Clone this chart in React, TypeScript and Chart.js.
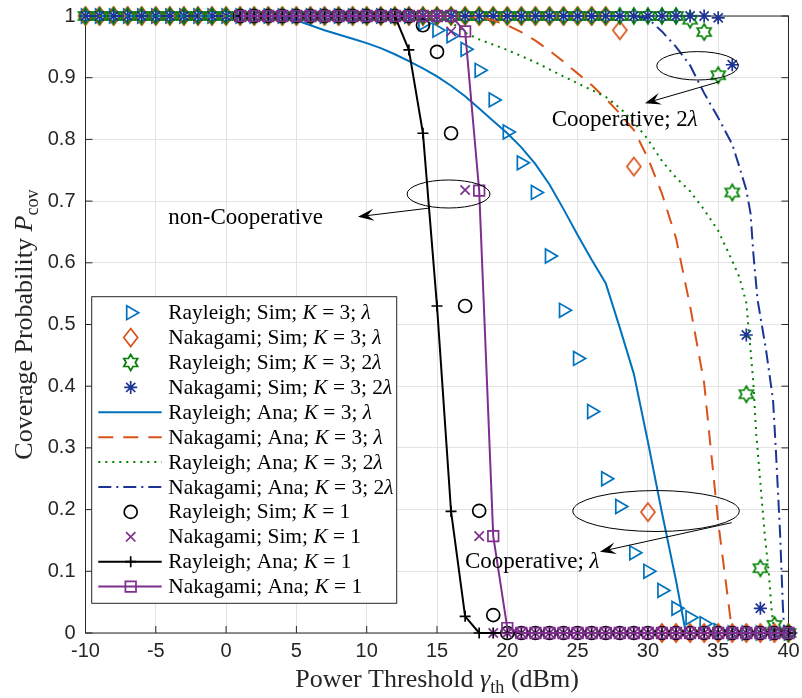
import React, { useEffect, useRef } from 'react';
import { Chart, registerables } from 'chart.js';

Chart.register(...registerables);

// ---------------- data ----------------
const xK3 = [-10, -9, -8, -7, -6, -5, -4, -3, -2, -1, 0, 1, 2, 3, 4, 5, 6, 7, 8, 9, 10, 11, 12, 13, 14, 15, 16, 17, 18, 19, 20, 21, 22, 23, 24, 25, 26, 27, 28, 29, 30, 31, 32, 33, 34, 35, 36, 37, 38, 39, 40];
const xK1 = [1, 2, 3, 4, 5, 6, 7, 8, 9, 10, 11, 12, 13, 14, 15, 16, 17, 18, 19, 20, 21, 22, 23, 24, 25, 26, 27, 28, 29, 30, 31, 32, 33, 34, 35, 36, 37, 38, 39, 40];

const rayleighSimK3Lam = [1, 1, 1, 1, 1, 1, 1, 1, 1, 1, 1, 1, 1, 1, 1, 1, 1, 1, 1, 1, 1, 1, 1, 1, 0.988, 0.977, 0.968, 0.946, 0.912, 0.864, 0.812, 0.762, 0.714, 0.611, 0.523, 0.445, 0.359, 0.25, 0.205, 0.13, 0.1, 0.069, 0.04, 0.025, 0.015, 0.004, 0, 0, 0, 0, 0];
const nakagamiSimK3Lam = [1, 1, 1, 1, 1, 1, 1, 1, 1, 1, 1, 1, 1, 1, 1, 1, 1, 1, 1, 1, 1, 1, 1, 1, 1, 1, 1, 1, 1, 1, 1, 1, 1, 1, 1, 1, 1, 1, 0.977, 0.756, 0.196, 0, 0, 0, 0, 0, 0, 0, 0, 0, 0];
const rayleighSimK3Lam2 = [1, 1, 1, 1, 1, 1, 1, 1, 1, 1, 1, 1, 1, 1, 1, 1, 1, 1, 1, 1, 1, 1, 1, 1, 1, 1, 1, 1, 1, 1, 1, 1, 1, 1, 1, 1, 1, 1, 1, 1, 1, 1, 1, 0.994, 0.974, 0.904, 0.714, 0.387, 0.105, 0.013, 0];
const nakagamiSimK3Lam2 = [1, 1, 1, 1, 1, 1, 1, 1, 1, 1, 1, 1, 1, 1, 1, 1, 1, 1, 1, 1, 1, 1, 1, 1, 1, 1, 1, 1, 1, 1, 1, 1, 1, 1, 1, 1, 1, 1, 1, 1, 1, 1, 1, 1, 1, 0.997, 0.921, 0.483, 0.04, 0, 0];

const xRayAnaK3Lam = [-10, -5, 0, 3, 4, 5, 6, 7, 8, 9, 10, 11, 12, 13, 14, 15, 16, 17, 18, 19, 20, 21, 22, 23, 24, 25, 26, 27, 28, 29, 30, 31, 32, 32.7, 35, 40];
const rayleighAnaK3Lam = [1, 1, 1, 1, 0.998, 0.993, 0.985, 0.977, 0.97, 0.963, 0.956, 0.948, 0.938, 0.927, 0.915, 0.902, 0.887, 0.87, 0.85, 0.83, 0.81, 0.787, 0.76, 0.727, 0.687, 0.645, 0.605, 0.567, 0.495, 0.42, 0.31, 0.195, 0.085, 0, 0, 0];

const xNakAnaK3Lam = [-10, 0, 10, 17, 18, 19, 20, 21, 22, 23, 24, 25, 26, 27, 28, 29, 30, 31, 32, 33, 34, 35, 35.5, 36, 40];
const nakagamiAnaK3Lam = [1, 1, 1, 1, 0.998, 0.993, 0.985, 0.974, 0.96, 0.944, 0.926, 0.907, 0.888, 0.866, 0.842, 0.815, 0.77, 0.712, 0.64, 0.53, 0.405, 0.18, 0.09, 0, 0];

const xRayAnaK3Lam2 = [-10, 0, 10, 15, 16, 17, 18, 20, 22, 24, 26, 27, 28, 29, 30, 31, 32, 33, 34, 35, 36, 36.5, 37, 37.3, 37.5, 37.7, 38, 38.3, 38.6, 38.8, 39, 40];
const rayleighAnaK3Lam2 = [1, 1, 1, 1, 0.99, 0.973, 0.962, 0.945, 0.925, 0.902, 0.88, 0.869, 0.851, 0.828, 0.8, 0.765, 0.738, 0.716, 0.686, 0.652, 0.603, 0.577, 0.535, 0.459, 0.405, 0.324, 0.243, 0.162, 0.097, 0.037, 0, 0];

const xNakAnaK3Lam2 = [-10, 0, 10, 20, 29, 30, 31, 32, 33, 34, 35, 36, 36.5, 37, 37.3, 37.5, 37.8, 38, 38.4, 38.9, 39.1, 39.4, 39.6, 39.7, 40];
const nakagamiAnaK3Lam2 = [1, 1, 1, 1, 1, 0.996, 0.975, 0.95, 0.92, 0.875, 0.835, 0.792, 0.756, 0.718, 0.68, 0.615, 0.54, 0.513, 0.459, 0.378, 0.297, 0.162, 0.043, 0, 0];

const rayleighSimK1 = [1, 1, 1, 1, 1, 1, 1, 1, 1, 1, 1, 1, 1, 0.985, 0.942, 0.81, 0.53, 0.198, 0.029, 0, 0, 0, 0, 0, 0, 0, 0, 0, 0, 0, 0, 0, 0, 0, 0, 0, 0, 0, 0, 0];
const nakagamiSimK1 = [1, 1, 1, 1, 1, 1, 1, 1, 1, 1, 1, 1, 1, 1, 1, 0.975, 0.718, 0.157, 0, 0, 0, 0, 0, 0, 0, 0, 0, 0, 0, 0, 0, 0, 0, 0, 0, 0, 0, 0, 0, 0];
const rayleighAnaK1 = [1, 1, 1, 1, 1, 1, 1, 1, 1, 1, 1, 1, 0.945, 0.81, 0.53, 0.197, 0.027, 0, 0, 0, 0, 0, 0, 0, 0, 0, 0, 0, 0, 0, 0, 0, 0, 0, 0, 0, 0, 0, 0, 0];
const nakagamiAnaK1 = [1, 1, 1, 1, 1, 1, 1, 1, 1, 1, 1, 1, 1, 1, 1, 1, 0.975, 0.717, 0.157, 0.008, 0, 0, 0, 0, 0, 0, 0, 0, 0, 0, 0, 0, 0, 0, 0, 0, 0, 0, 0, 0];

const xTickMin = -10;
const xTickMax = 40;
const xTickStep = 5;
const yTickMin = 0;
const yTickMax = 1;
const yTickStep = 0.1;

const xTitle = 'Power Threshold';
const yTitle = 'Coverage Probability';

// ---------------- styles ----------------
const BLUE = '#0072BD';
const ORANGE = '#D95319';
const GREEN = '#008000';
const NAVY = '#1C3494';
const PURPLE = '#7E2F8E';
const BLACK = '#000000';
const AXIS = '#262626';
const SERIF = '"Liberation Serif", "Times New Roman", serif';
const SANS = '"Liberation Sans", Arial, Helvetica, sans-serif';

type Seg = { t: string; i?: boolean; sub?: boolean };
const R = (t: string): Seg => ({ t });
const I = (t: string): Seg => ({ t, i: true });
const S = (t: string): Seg => ({ t, sub: true });

function drawRich(ctx: CanvasRenderingContext2D, segs: Seg[], x: number, y: number, size: number, align: 'left' | 'center') {
  const fontOf = (s: Seg) => `${s.i ? 'italic ' : ''}${s.sub ? size * 0.7 : size}px ${SERIF}`;
  const widths = segs.map((s) => {
    ctx.font = fontOf(s);
    return ctx.measureText(s.t).width;
  });
  const total = widths.reduce((a, b) => a + b, 0);
  let cx = align === 'center' ? x - total / 2 : x;
  ctx.textAlign = 'left';
  ctx.textBaseline = 'alphabetic';
  segs.forEach((s, k) => {
    ctx.font = fontOf(s);
    ctx.fillText(s.t, cx, y + (s.sub ? size * 0.22 : 0));
    cx += widths[k];
  });
}

type MarkerKind = 'tri' | 'diamond' | 'hex' | 'star' | 'circle' | 'x' | 'plus' | 'square';

function strokeMarker(ctx: CanvasRenderingContext2D, kind: MarkerKind, cx: number, cy: number, color: string) {
  ctx.save();
  ctx.strokeStyle = color;
  ctx.lineWidth = 1.7;
  ctx.setLineDash([]);
  ctx.beginPath();
  if (kind === 'tri') {
    const r = 8;
    ctx.moveTo(cx + r, cy);
    ctx.lineTo(cx - r / 2, cy + 0.866 * r);
    ctx.lineTo(cx - r / 2, cy - 0.866 * r);
    ctx.closePath();
  } else if (kind === 'diamond') {
    const w = 14, h = 18;
    ctx.moveTo(cx, cy - h / 2);
    ctx.lineTo(cx + w / 2, cy);
    ctx.lineTo(cx, cy + h / 2);
    ctx.lineTo(cx - w / 2, cy);
    ctx.closePath();
  } else if (kind === 'hex') {
    const Ro = 8, Ri = 8 / Math.sqrt(3);
    for (let k = 0; k < 12; k++) {
      const ang = -Math.PI / 2 + (k * Math.PI) / 6;
      const rr = k % 2 === 0 ? Ro : Ri;
      const px = cx + rr * Math.cos(ang), py = cy + rr * Math.sin(ang);
      if (k === 0) ctx.moveTo(px, py); else ctx.lineTo(px, py);
    }
    ctx.closePath();
  } else if (kind === 'star') {
    const r = 6.5;
    for (let k = 0; k < 4; k++) {
      const ang = (k * Math.PI) / 4;
      ctx.moveTo(cx - r * Math.cos(ang), cy - r * Math.sin(ang));
      ctx.lineTo(cx + r * Math.cos(ang), cy + r * Math.sin(ang));
    }
  } else if (kind === 'circle') {
    ctx.arc(cx, cy, 6.5, 0, Math.PI * 2);
  } else if (kind === 'x') {
    const h = 4.7;
    ctx.moveTo(cx - h, cy - h); ctx.lineTo(cx + h, cy + h);
    ctx.moveTo(cx - h, cy + h); ctx.lineTo(cx + h, cy - h);
  } else if (kind === 'plus') {
    const h = 5.5;
    ctx.moveTo(cx - h, cy); ctx.lineTo(cx + h, cy);
    ctx.moveTo(cx, cy - h); ctx.lineTo(cx, cy + h);
  } else if (kind === 'square') {
    const h = 5.3;
    ctx.rect(cx - h, cy - h, 2 * h, 2 * h);
  }
  ctx.stroke();
  ctx.restore();
}

function markerImage(kind: MarkerKind, color: string) {
  const c = document.createElement('canvas');
  c.width = 24;
  c.height = 24;
  const g = c.getContext('2d')!;
  strokeMarker(g, kind, 12, 12, color);
  return c;
}

type LegendEntry = { marker?: MarkerKind; color: string; line?: number[] | null; segs: Seg[] };
const legendEntries: LegendEntry[] = [
  { marker: 'tri', color: BLUE, segs: [R('Rayleigh; Sim; '), I('K'), R(' = 3; '), I('λ')] },
  { marker: 'diamond', color: ORANGE, segs: [R('Nakagami; Sim; '), I('K'), R(' = 3; '), I('λ')] },
  { marker: 'hex', color: GREEN, segs: [R('Rayleigh; Sim; '), I('K'), R(' = 3; 2'), I('λ')] },
  { marker: 'star', color: NAVY, segs: [R('Nakagami; Sim; '), I('K'), R(' = 3; 2'), I('λ')] },
  { line: [], color: BLUE, segs: [R('Rayleigh; Ana; '), I('K'), R(' = 3; '), I('λ')] },
  { line: [15, 10], color: ORANGE, segs: [R('Nakagami; Ana; '), I('K'), R(' = 3; '), I('λ')] },
  { line: [2, 5], color: GREEN, segs: [R('Rayleigh; Ana; '), I('K'), R(' = 3; 2'), I('λ')] },
  { line: [13, 5, 2, 5], color: NAVY, segs: [R('Nakagami; Ana; '), I('K'), R(' = 3; 2'), I('λ')] },
  { marker: 'circle', color: BLACK, segs: [R('Rayleigh; Sim; '), I('K'), R(' = 1')] },
  { marker: 'x', color: PURPLE, segs: [R('Nakagami; Sim; '), I('K'), R(' = 1')] },
  { marker: 'plus', line: [], color: BLACK, segs: [R('Rayleigh; Ana; '), I('K'), R(' = 1')] },
  { marker: 'square', line: [], color: PURPLE, segs: [R('Nakagami; Ana; '), I('K'), R(' = 1')] },
];

// annotations in data units
const ellipses = [
  { cx: 15.82, cy: 0.7115, rx: 2.95, ry: 0.0227 },
  { cx: 33.53, cy: 0.9193, rx: 2.9, ry: 0.023 },
  { cx: 30.58, cy: 0.1977, rx: 5.92, ry: 0.0332 },
];
const arrows = [
  { x1: 14.5, y1: 0.6888, x2: 9.38, y2: 0.6747 },
  { x1: 35.08, y1: 0.8935, x2: 29.79, y2: 0.8585 },
  { x1: 35.96, y1: 0.1788, x2: 26.59, y2: 0.1318 },
];
const notes = [
  { x: -4.11, y: 0.663, segs: [R('non-Cooperative')] },
  { x: 23.16, y: 0.8217, segs: [R('Cooperative; 2'), I('λ')] },
  { x: 16.99, y: 0.1049, segs: [R('Cooperative; '), I('λ')] },
];

const pts = (xs: number[], ys: number[]) => xs.map((x, i) => ({ x, y: ys[i] }));
const fmtTick = (v: any) => String(Number(Number(v).toFixed(2)));

export default function App() {
  const ref = useRef<HTMLCanvasElement | null>(null);

  useEffect(() => {
    const canvas = ref.current!;
    const diamondImg = markerImage('diamond', ORANGE);
    const hexImg = markerImage('hex', GREEN);

    const sim = (label: string, xs: number[], ys: number[], color: string, style: any, radius: number, order: number, rotation = 0) => ({
      label,
      data: pts(xs, ys),
      showLine: false,
      pointStyle: style,
      pointRadius: radius,
      pointHoverRadius: radius,
      pointRotation: rotation,
      pointBorderColor: color,
      pointBackgroundColor: 'rgba(0,0,0,0)',
      pointBorderWidth: 1.7,
      borderColor: color,
      backgroundColor: 'rgba(0,0,0,0)',
      order,
      clip: false as any,
    });
    const ana = (label: string, xs: number[], ys: number[], color: string, dash: number[], order: number, style: any = false, radius = 0) => ({
      label,
      data: pts(xs, ys),
      showLine: true,
      borderColor: color,
      borderWidth: 2,
      borderDash: dash,
      tension: 0,
      fill: false,
      pointStyle: style,
      pointRadius: radius,
      pointHoverRadius: radius,
      pointBorderColor: color,
      pointBackgroundColor: 'rgba(0,0,0,0)',
      pointBorderWidth: 1.7,
      backgroundColor: 'rgba(0,0,0,0)',
      order,
      clip: false as any,
    });

    const datasets: any[] = [
      sim('Rayleigh; Sim; K = 3; λ', xK3, rayleighSimK3Lam, BLUE, 'triangle', 8, 20, 90),
      sim('Nakagami; Sim; K = 3; λ', xK3, nakagamiSimK3Lam, ORANGE, diamondImg, 8, 19),
      sim('Rayleigh; Sim; K = 3; 2λ', xK3, rayleighSimK3Lam2, GREEN, hexImg, 8, 18),
      sim('Nakagami; Sim; K = 3; 2λ', xK3, nakagamiSimK3Lam2, NAVY, 'star', 6.5, 17),
      ana('Rayleigh; Ana; K = 3; λ', xRayAnaK3Lam, rayleighAnaK3Lam, BLUE, [], 16),
      ana('Nakagami; Ana; K = 3; λ', xNakAnaK3Lam, nakagamiAnaK3Lam, ORANGE, [15, 10], 15),
      ana('Rayleigh; Ana; K = 3; 2λ', xRayAnaK3Lam2, rayleighAnaK3Lam2, GREEN, [2, 5], 14),
      ana('Nakagami; Ana; K = 3; 2λ', xNakAnaK3Lam2, nakagamiAnaK3Lam2, NAVY, [13, 5, 2, 5], 13),
      sim('Rayleigh; Sim; K = 1', xK1, rayleighSimK1, BLACK, 'circle', 6.5, 12),
      sim('Nakagami; Sim; K = 1', xK1, nakagamiSimK1, PURPLE, 'crossRot', 6.6, 11),
      ana('Rayleigh; Ana; K = 1', xK1, rayleighAnaK1, BLACK, [], 10, 'cross', 5.5),
      ana('Nakagami; Ana; K = 1', xK1, nakagamiAnaK1, PURPLE, [], 9, 'rect', 7.5),
    ];

    const boxPlugin = {
      id: 'boxPlugin',
      beforeDatasetsDraw(chart: any) {
        const { ctx, chartArea: a, scales } = chart;
        ctx.save();
        ctx.strokeStyle = AXIS;
        ctx.lineWidth = 1;
        ctx.setLineDash([]);
        ctx.strokeRect(a.left, a.top, a.right - a.left, a.bottom - a.top);
        const tl = 7;
        ctx.beginPath();
        scales.x.ticks.forEach((t: any) => {
          const px = scales.x.getPixelForValue(t.value);
          ctx.moveTo(px, a.bottom); ctx.lineTo(px, a.bottom - tl);
          ctx.moveTo(px, a.top); ctx.lineTo(px, a.top + tl);
        });
        scales.y.ticks.forEach((t: any) => {
          const py = scales.y.getPixelForValue(t.value);
          ctx.moveTo(a.left, py); ctx.lineTo(a.left + tl, py);
          ctx.moveTo(a.right, py); ctx.lineTo(a.right - tl, py);
        });
        ctx.stroke();
        ctx.restore();
      },
      afterDatasetsDraw(chart: any) {
        const { ctx, chartArea: a, scales } = chart;
        const X = (v: number) => scales.x.getPixelForValue(v);
        const Y = (v: number) => scales.y.getPixelForValue(v);
        ctx.save();
        ctx.setLineDash([]);
        ctx.strokeStyle = BLACK;
        ctx.fillStyle = BLACK;
        ctx.lineWidth = 1;
        ellipses.forEach((e) => {
          const cx = X(e.cx), cy = Y(e.cy);
          const rx = Math.abs(X(e.cx + e.rx) - cx), ry = Math.abs(Y(e.cy + e.ry) - cy);
          ctx.beginPath();
          ctx.ellipse(cx, cy, rx, ry, 0, 0, Math.PI * 2);
          ctx.stroke();
        });
        arrows.forEach((ar) => {
          const x1 = X(ar.x1), y1 = Y(ar.y1), x2 = X(ar.x2), y2 = Y(ar.y2);
          const ang = Math.atan2(y2 - y1, x2 - x1);
          const L = 16, W = 6;
          ctx.beginPath();
          ctx.moveTo(x1, y1);
          ctx.lineTo(x2 - Math.cos(ang) * L * 0.6, y2 - Math.sin(ang) * L * 0.6);
          ctx.stroke();
          const bx = x2 - Math.cos(ang) * L, by = y2 - Math.sin(ang) * L;
          const nx = -Math.sin(ang), ny = Math.cos(ang);
          const mx = x2 - Math.cos(ang) * L * 0.6, my = y2 - Math.sin(ang) * L * 0.6;
          ctx.beginPath();
          ctx.moveTo(x2, y2);
          ctx.lineTo(bx + nx * W, by + ny * W);
          ctx.lineTo(mx, my);
          ctx.lineTo(bx - nx * W, by - ny * W);
          ctx.closePath();
          ctx.fill();
        });
        notes.forEach((n) => {
          drawRich(ctx, n.segs, X(n.x), Y(n.y), 23, 'left');
        });

        const lx = a.left + 6.2, ly = a.top + 280.7, lw = 305, lh = 306.6;
        ctx.fillStyle = '#ffffff';
        ctx.fillRect(lx, ly, lw, lh);
        ctx.strokeStyle = AXIS;
        ctx.lineWidth = 1;
        ctx.strokeRect(lx, ly, lw, lh);
        legendEntries.forEach((en, k) => {
          const ry = ly + 16 + k * 24.9;
          if (en.line) {
            ctx.save();
            ctx.strokeStyle = en.color;
            ctx.lineWidth = 2;
            ctx.setLineDash(en.line);
            ctx.beginPath();
            ctx.moveTo(lx + 6.6, ry);
            ctx.lineTo(lx + 70, ry);
            ctx.stroke();
            ctx.restore();
          }
          if (en.marker) strokeMarker(ctx, en.marker, lx + 39, ry, en.color);
          ctx.fillStyle = BLACK;
          drawRich(ctx, en.segs, lx + 76.6, ry + 6.5, 21.4, 'left');
        });
        ctx.restore();
      },
      afterDraw(chart: any) {
        const { ctx, chartArea: a } = chart;
        ctx.save();
        ctx.fillStyle = AXIS;
        drawRich(ctx, [R(xTitle + ' '), I('γ'), S('th'), R(' (dBm)')], (a.left + a.right) / 2, 687, 26, 'center');
        ctx.translate(32, (a.top + a.bottom) / 2);
        ctx.rotate(-Math.PI / 2);
        drawRich(ctx, [R(yTitle + ' '), I('P'), S('cov')], 0, 0, 26, 'center');
        ctx.restore();
      },
    };

    const chart = new Chart(canvas, {
      type: 'scatter',
      data: { datasets },
      options: {
        animation: false,
        responsive: false,
        events: [],
        layout: { padding: { left: 0, right: 13.5, top: 16, bottom: 0 } },
        plugins: { legend: { display: false }, tooltip: { enabled: false } },
        scales: {
          x: {
            type: 'linear',
            min: xTickMin,
            max: xTickMax,
            afterFit: (s: any) => { s.height = 65; s.paddingLeft = 0; s.paddingRight = 0; },
            ticks: { stepSize: xTickStep, color: AXIS, font: { family: SANS, size: 20 }, padding: 6, maxRotation: 0, callback: fmtTick },
            grid: { color: '#e3e3e3', lineWidth: 1, drawTicks: false },
            border: { display: false },
          },
          y: {
            type: 'linear',
            min: yTickMin,
            max: yTickMax,
            afterFit: (s: any) => { s.width = 85.5; s.paddingTop = 0; s.paddingBottom = 0; },
            ticks: { stepSize: yTickStep, color: AXIS, font: { family: SANS, size: 20 }, padding: 10, callback: fmtTick },
            grid: { color: '#e3e3e3', lineWidth: 1, drawTicks: false },
            border: { display: false },
          },
        },
      },
      plugins: [boxPlugin],
    } as any);
    return () => chart.destroy();
  }, []);

  return (
    <div style={{ position: 'absolute', left: 0, top: 0, width: 802, height: 698, background: '#ffffff' }}>
      <canvas ref={ref} width={802} height={698} style={{ display: 'block' }} />
    </div>
  );
}
